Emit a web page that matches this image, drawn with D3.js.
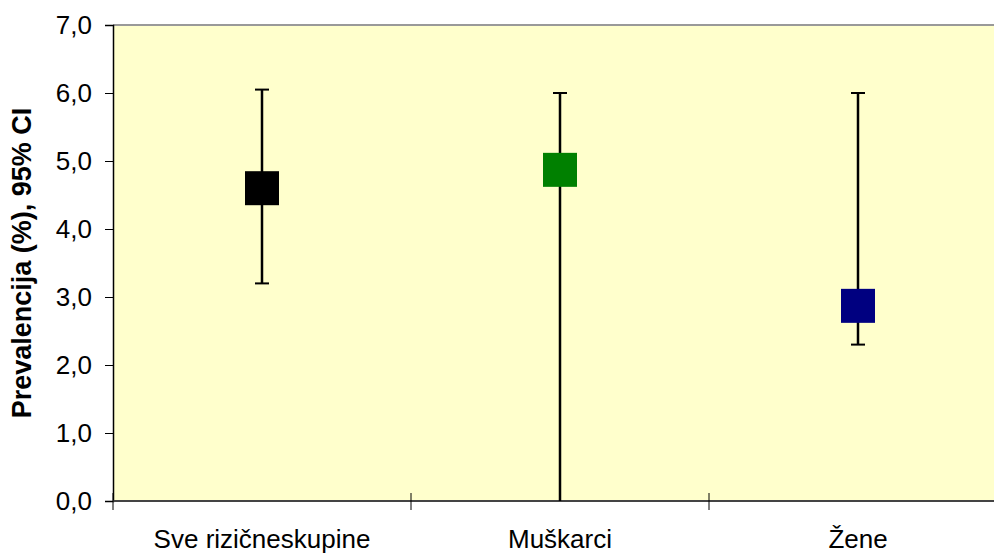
<!DOCTYPE html>
<html>
<head>
<meta charset="utf-8">
<script src="https://cdn.jsdelivr.net/npm/d3@7"></script>
<style>
  body { margin: 0; background: #fff; }
  text { font-family: "Liberation Sans", Arial, sans-serif; }
</style>
</head>
<body>
<div id="viz"></div>
<script>
var categories = ['Sve rizičneskupine', 'Muškarci', 'Žene'];
var values = [4.6, 4.87, 2.87];
var lower = [3.2, 0.0, 2.3];
var upper = [6.05, 6.0, 6.0];
var colors = ['#000000', '#008000', '#000080'];
var yTicks = [0, 1, 2, 3, 4, 5, 6, 7];

var W = 994, H = 554;
var margin = { top: 25, right: -13, bottom: 53, left: 113 };

var svg = d3.select('#viz')
  .append('svg')
  .attr('width', W)
  .attr('height', H);

var x = d3.scaleBand()
  .domain(categories)
  .range([margin.left, W - margin.right]);

var y = d3.scaleLinear()
  .domain([0, 7])
  .range([H - margin.bottom, margin.top]);

// plot background
svg.append('rect')
  .attr('x', margin.left)
  .attr('y', margin.top)
  .attr('width', W - margin.right - margin.left)
  .attr('height', y(0) - y(7))
  .attr('fill', '#FFFFCC');

// top border
svg.append('line')
  .attr('x1', margin.left).attr('x2', W)
  .attr('y1', y(7)).attr('y2', y(7))
  .attr('stroke', '#999').attr('stroke-width', 2);

// y axis
var yAxis = svg.append('g')
  .attr('transform', 'translate(' + margin.left + ',0)')
  .call(d3.axisLeft(y).tickValues(yTicks).tickSize(8)
    .tickFormat(function(d) { return d3.format('.1f')(d).replace('.', ','); }));
yAxis.select('.domain').attr('stroke', '#000').attr('stroke-width', 1.5);
yAxis.selectAll('.tick line').attr('stroke', '#000').attr('x2', -8).attr('x1', 0);
yAxis.selectAll('text')
  .attr('x', -21)
  .attr('font-size', 26)
  .attr('fill', '#000')
  .attr('font-family', '"Liberation Sans", Arial, sans-serif');

// x axis
var xAxis = svg.append('g')
  .attr('transform', 'translate(0,' + y(0) + ')')
  .call(d3.axisBottom(x).tickSize(0).tickPadding(29));
xAxis.select('.domain').remove();
xAxis.selectAll('text')
  .attr('font-size', 26)
  .attr('fill', '#000')
  .attr('font-family', '"Liberation Sans", Arial, sans-serif');

svg.append('line')
  .attr('x1', margin.left).attr('x2', W)
  .attr('y1', y(0)).attr('y2', y(0))
  .attr('stroke', '#444').attr('stroke-width', 2);

// x boundary ticks
var bounds = categories.map(function(c) { return x(c); });
svg.selectAll('.xtick')
  .data(bounds)
  .enter().append('line')
  .attr('class', 'xtick')
  .attr('x1', function(d) { return d; })
  .attr('x2', function(d) { return d; })
  .attr('y1', y(0) - 8)
  .attr('y2', y(0) + 9)
  .attr('stroke', '#000')
  .attr('stroke-width', 1);

// data
var pts = categories.map(function(c, i) {
  return { c: c, v: values[i], lo: lower[i], hi: upper[i], col: colors[i] };
});

var g = svg.append('g');
var cx = function(d) { return x(d.c) + x.bandwidth() / 2; };

g.selectAll('.err')
  .data(pts)
  .enter().append('line')
  .attr('x1', cx).attr('x2', cx)
  .attr('y1', function(d) { return y(d.lo); })
  .attr('y2', function(d) { return y(d.hi); })
  .attr('stroke', '#000').attr('stroke-width', 2.5);

g.selectAll('.capT')
  .data(pts)
  .enter().append('line')
  .attr('x1', function(d) { return cx(d) - 7; })
  .attr('x2', function(d) { return cx(d) + 7; })
  .attr('y1', function(d) { return y(d.hi); })
  .attr('y2', function(d) { return y(d.hi); })
  .attr('stroke', '#000').attr('stroke-width', 2);

g.selectAll('.capB')
  .data(pts.filter(function(d) { return d.lo > 0; }))
  .enter().append('line')
  .attr('x1', function(d) { return cx(d) - 7; })
  .attr('x2', function(d) { return cx(d) + 7; })
  .attr('y1', function(d) { return y(d.lo); })
  .attr('y2', function(d) { return y(d.lo); })
  .attr('stroke', '#000').attr('stroke-width', 2);

g.selectAll('.mark')
  .data(pts)
  .enter().append('rect')
  .attr('x', function(d) { return cx(d) - 17; })
  .attr('y', function(d) { return y(d.v) - 17; })
  .attr('width', 34)
  .attr('height', 34)
  .attr('fill', function(d) { return d.col; });

// y title
svg.append('text')
  .attr('transform', 'translate(31,' + (margin.top + (y(0) - y(7)) / 2) + ') rotate(-90)')
  .attr('text-anchor', 'middle')
  .attr('font-size', 27)
  .attr('font-weight', 'bold')
  .text('Prevalencija (%), 95% CI');
</script>
</body>
</html>
